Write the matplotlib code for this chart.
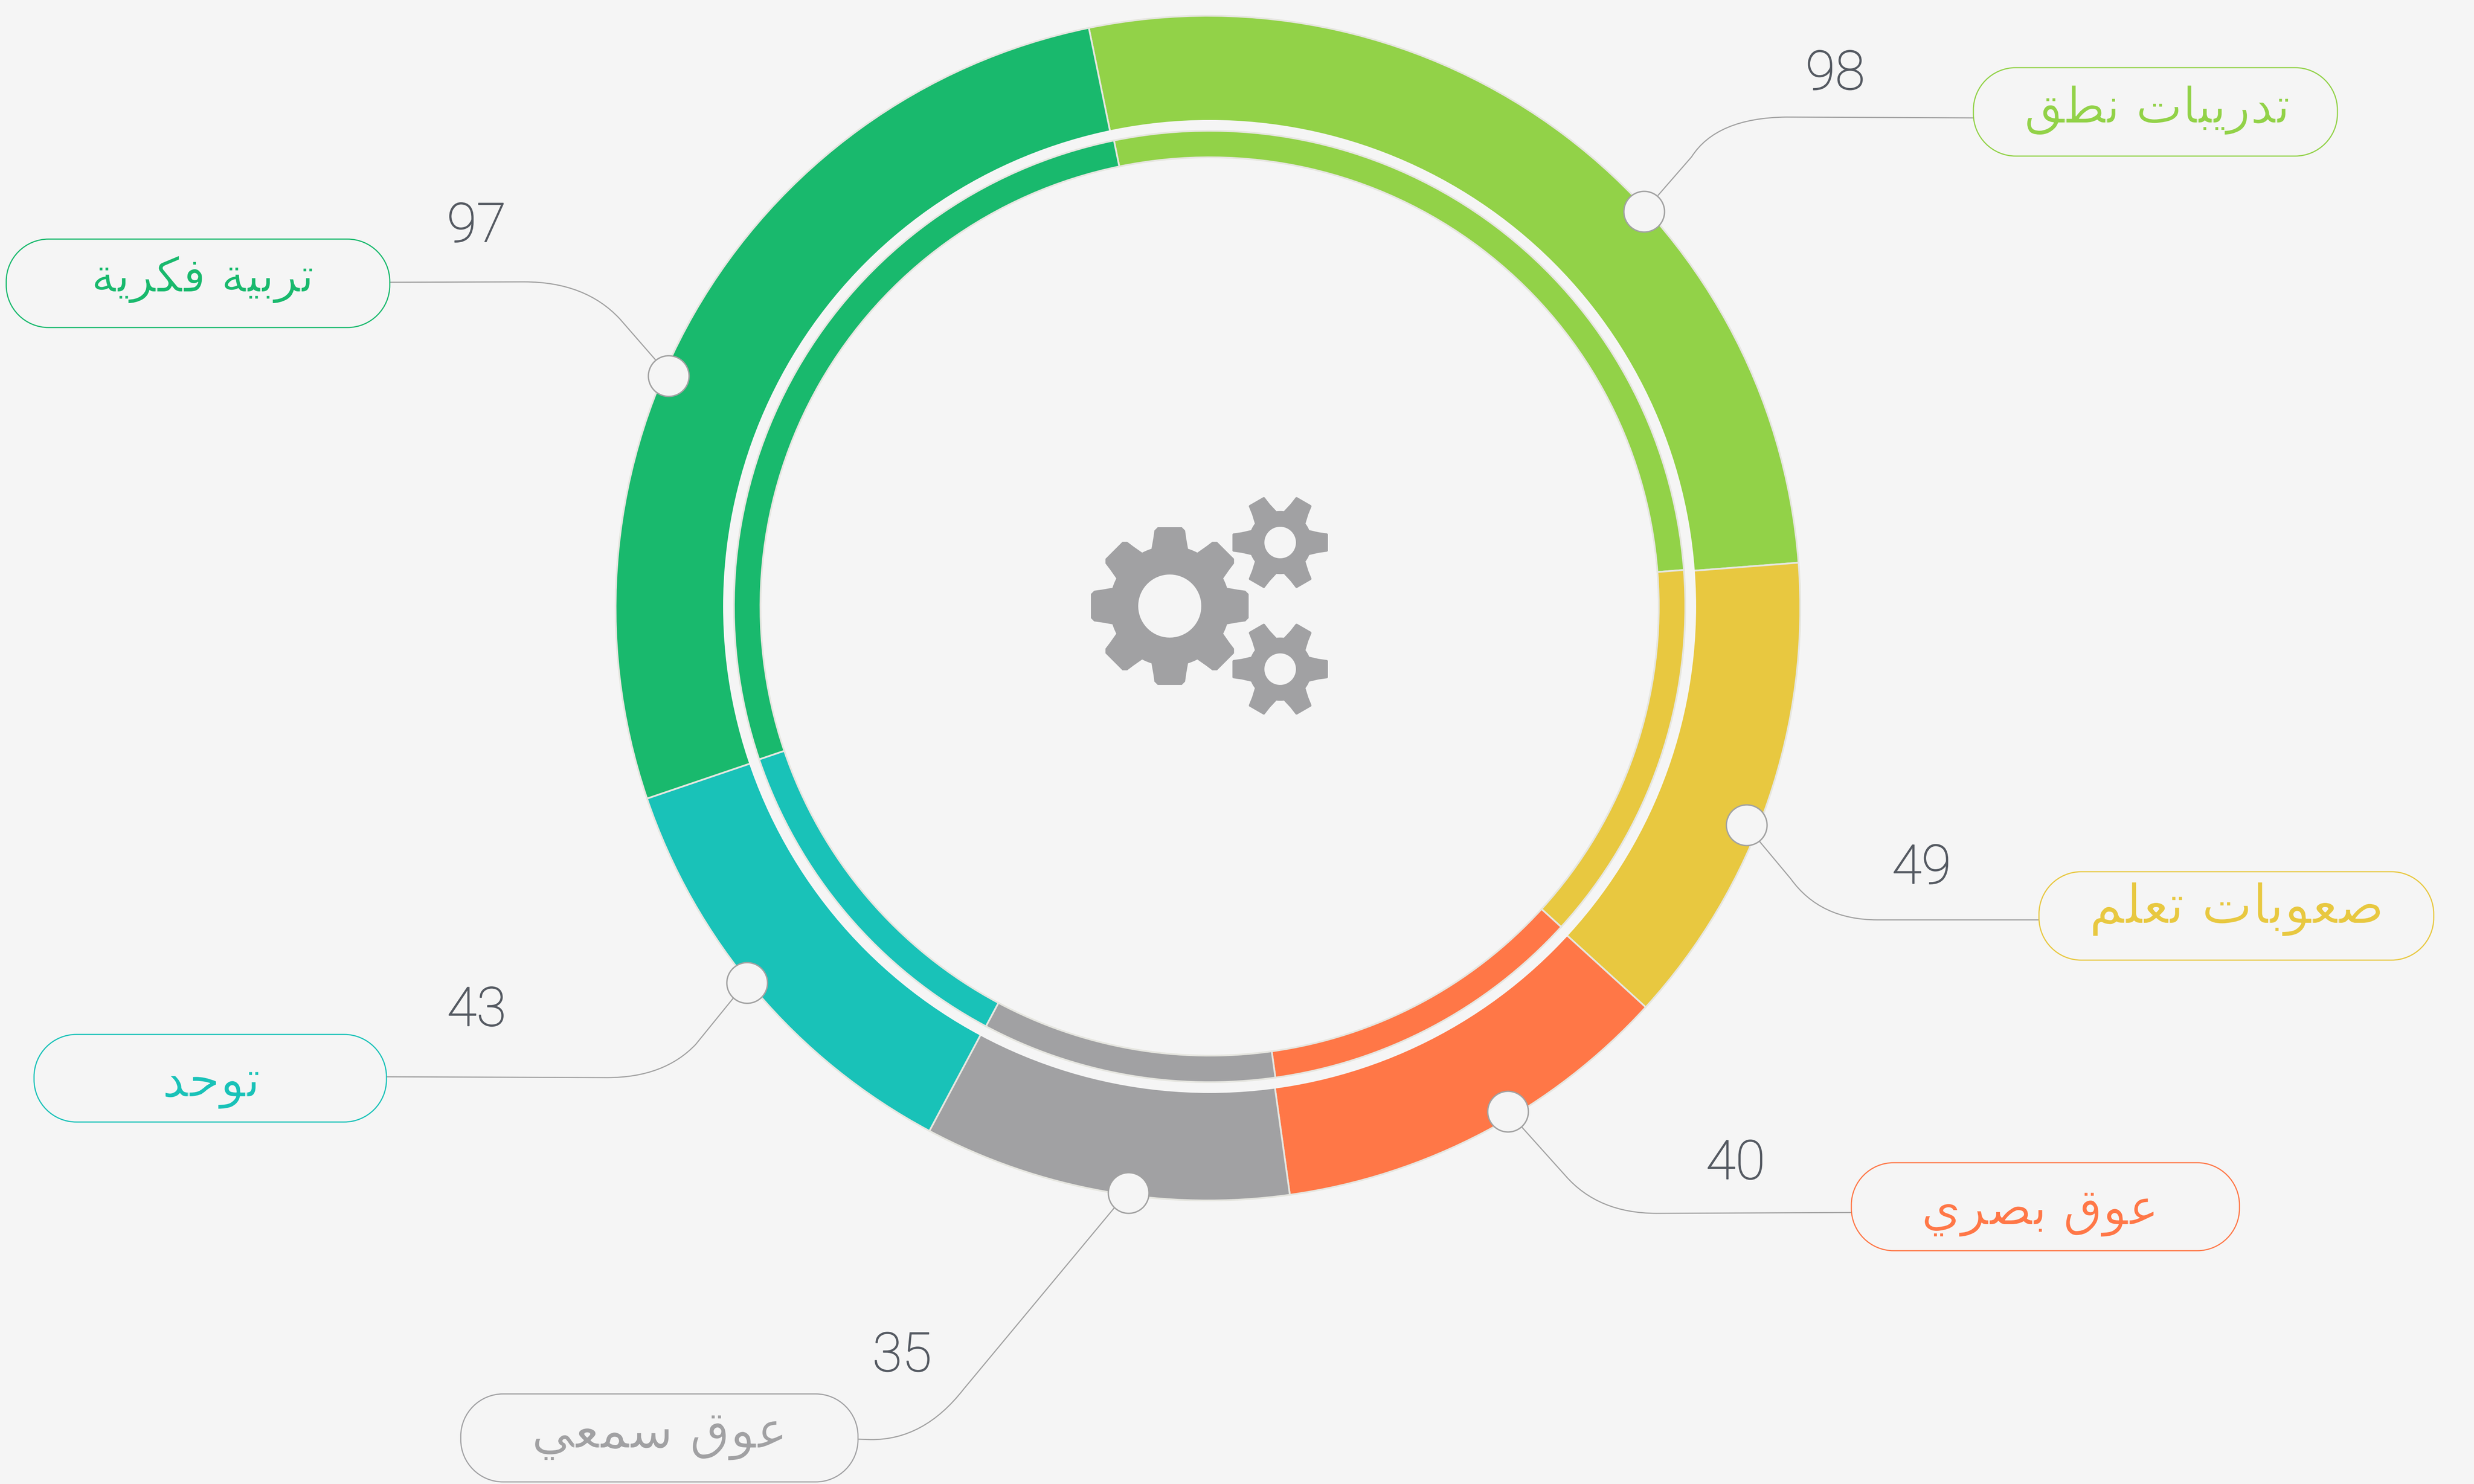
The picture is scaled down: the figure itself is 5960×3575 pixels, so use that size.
import numpy as np
import matplotlib
matplotlib.use("Agg")
import matplotlib.pyplot as plt
from matplotlib.patches import Circle, PathPatch
from matplotlib.path import Path
import matplotlib.patheffects as pe

# ---- data -------------------------------------------------------------
labels = ["تدريبات نطق", "صعوبات تعلم", "عوق بصري", "عوق سمعي", "توحد", "تربية فكرية"]
values = [98, 49, 40, 35, 43, 97]
# arc sweep of every slice (degrees)
sweeps = [97.2, 46.75, 39.7, 36.0, 43.2, 97.15]
colors = ["#92d248", "#e8c840", "#ff7747", "#a1a1a3", "#19c2b8", "#19b96d"]

# ---- layout (pixels of the 5960x3575 canvas) ---------------------------
BG = "#f5f5f5"
CX, CY = 2910, 1465
IX, IY = 2914, 1461
START = -101.6
pills = [(4754, 163, 5631, 376), (4912, 2100, 5863, 2313), (4460, 2801, 5395, 3013),
         (1110, 3358, 2067, 3570), (82, 2492, 931, 2703), (15, 576, 939, 789)]
label_xy = [(5197, 296), (5388, 2224), (4915, 2950), (1589, 3488), (509, 2642), (488, 703)]
label_size = [43, 47, 44, 45, 44, 41.5]
value_xy = [(4421, 179), (4629, 2092), (4181, 2804), (2173, 3267), (1148, 2435), (1148, 546)]
dots = [(3961, 510), (4208, 1988), (3633, 2678), (2719, 2874), (1800, 2368), (1611, 906)]
leaders = [
    [(3994, 471), (4075, 378), (4135, 284), (4303, 282), (4754, 284)],
    [(4238, 2026), (4314, 2117), (4385, 2216), (4523, 2216), (4912, 2216)],
    [(3666, 2715), (3771, 2832), (3850, 2923), (3991, 2923), (4460, 2921)],
    [(2685, 2909), (2321, 3347), (2225, 3470), (2097, 3468), (2067, 3467)],
    [(1771, 2399), (1676, 2516), (1600, 2596), (1463, 2596), (931, 2594)],
    [(1581, 869), (1493, 768), (1410, 679), (1263, 679), (939, 680)],
]

# ---- Arabic shaping (matplotlib draws no joined Arabic by itself) --------
FORMS = {
    "ا": (0xFE8D, 0xFE8E, None, None), "ب": (0xFE8F, 0xFE90, 0xFE91, 0xFE92),
    "ة": (0xFE93, 0xFE94, None, None), "ت": (0xFE95, 0xFE96, 0xFE97, 0xFE98),
    "ح": (0xFEA1, 0xFEA2, 0xFEA3, 0xFEA4), "د": (0xFEA9, 0xFEAA, None, None),
    "ر": (0xFEAD, 0xFEAE, None, None), "س": (0xFEB1, 0xFEB2, 0xFEB3, 0xFEB4),
    "ص": (0xFEB9, 0xFEBA, 0xFEBB, 0xFEBC), "ط": (0xFEC1, 0xFEC2, 0xFEC3, 0xFEC4),
    "ع": (0xFEC9, 0xFECA, 0xFECB, 0xFECC), "ف": (0xFED1, 0xFED2, 0xFED3, 0xFED4),
    "ق": (0xFED5, 0xFED6, 0xFED7, 0xFED8), "ك": (0xFED9, 0xFEDA, 0xFEDB, 0xFEDC),
    "ل": (0xFEDD, 0xFEDE, 0xFEDF, 0xFEE0), "م": (0xFEE1, 0xFEE2, 0xFEE3, 0xFEE4),
    "ن": (0xFEE5, 0xFEE6, 0xFEE7, 0xFEE8), "و": (0xFEED, 0xFEEE, None, None),
    "ي": (0xFEF1, 0xFEF2, 0xFEF3, 0xFEF4), "ه": (0xFEE9, 0xFEEA, 0xFEEB, 0xFEEC),
}


def shape(text):
    out = []
    for i, ch in enumerate(text):
        if ch not in FORMS:
            out.append(ch)
            continue
        f = FORMS[ch]
        prev = text[i - 1] if i else " "
        nxt = text[i + 1] if i + 1 < len(text) else " "
        joins_prev = prev in FORMS and FORMS[prev][2] is not None
        joins_next = nxt in FORMS and f[2] is not None
        code = f[3] if joins_prev and joins_next else f[1] if joins_prev else f[2] if joins_next else f[0]
        out.append(chr(code))
    return "".join(reversed(out))


def gear_path(cx, cy, n, r_tip, r_base, w_tip, w_base, r_hole, rnd):
    pts = []
    for k in range(n):
        a = 2 * np.pi * k / n
        c, s = np.cos(a), np.sin(a)
        r_mid = (r_base + r_tip) / 2
        w_mid = w_tip + (w_base - w_tip) * 0.35
        tooth = [(r_base, -w_base), (r_mid, -w_mid), (r_tip - rnd, -w_tip),
                 (r_tip, -w_tip + rnd), (r_tip, w_tip - rnd), (r_tip - rnd, w_tip),
                 (r_mid, w_mid), (r_base, w_base)]
        for rad, w in tooth:
            pts.append((cx + rad * c - w * s, cy + rad * s + w * c))
        r0 = np.hypot(r_base, w_base)
        d = np.arctan2(w_base, r_base)
        for t in np.linspace(a + d, a + 2 * np.pi / n - d, 8)[1:-1]:
            pts.append((cx + r0 * np.cos(t), cy + r0 * np.sin(t)))
    pts = np.array(pts)
    outer = Path(np.vstack([pts, pts[:1]]), closed=True)
    t = np.linspace(0, -2 * np.pi, 73)
    hole = Path(np.c_[cx + r_hole * np.cos(t), cy + r_hole * np.sin(t)], closed=True)
    return Path.make_compound_path(outer, hole)


def pill_path(x0, y0, x1, y1, r):
    k = r * 0.4477
    verts = [(x0 + r, y0), (x1 - r, y0), (x1 - k, y0), (x1, y0 + k), (x1, y0 + r),
             (x1, y1 - r), (x1, y1 - k), (x1 - k, y1), (x1 - r, y1),
             (x0 + r, y1), (x0 + k, y1), (x0, y1 - k), (x0, y1 - r),
             (x0, y0 + r), (x0, y0 + k), (x0 + k, y0), (x0 + r, y0), (x0 + r, y0)]
    C = Path.CURVE4
    codes = [Path.MOVETO, Path.LINETO, C, C, C, Path.LINETO, C, C, C,
             Path.LINETO, C, C, C, Path.LINETO, C, C, C, Path.CLOSEPOLY]
    return Path(verts, codes)


fig = plt.figure(figsize=(29.8, 17.875), dpi=200, facecolor=BG)
ax = fig.add_axes([0, 0, 1, 1])
ax.set_facecolor(BG)

edge = dict(edgecolor="#e6e6e0", linewidth=1.5)
ax.pie(sweeps, colors=colors, startangle=START, counterclock=True, center=(CX, CY),
       radius=1427, frame=True, wedgeprops=dict(width=1427 - 1120, **edge))
ax.add_patch(Circle((IX, IY), 1172, facecolor=BG, edgecolor="none", zorder=2))
wedges, _ = ax.pie(sweeps, colors=colors, startangle=START, counterclock=True, center=(IX, IY),
                   radius=1146, frame=True, wedgeprops=dict(width=1146 - 1082, **edge))
for w in wedges:
    w.set_zorder(2.5)
ax.set_xlim(0, 5960)
ax.set_ylim(3575, 0)
ax.set_aspect("equal")
ax.axis("off")

for cx, cy, n, rt, rb, wt, wb, rh, rnd in [(2818, 1460, 8, 190, 138, 37, 44, 76, 8),
                                           (3084, 1307, 6, 115, 70, 22, 30, 38, 2),
                                           (3084, 1612, 6, 115, 70, 22, 30, 38, 2)]:
    ax.add_patch(PathPatch(gear_path(cx, cy, n, rt, rb, wt, wb, rh, rnd), facecolor="#a1a1a3",
                           edgecolor="none", zorder=3))

line_col = "#a2a2a2"
for pts in leaders:
    codes = [Path.MOVETO, Path.LINETO, Path.CURVE3, Path.CURVE3, Path.LINETO]
    ax.add_patch(PathPatch(Path(pts, codes), facecolor="none", edgecolor=line_col,
                           linewidth=1.0, zorder=4))

for (x, y) in dots:
    ax.add_patch(Circle((x, y), 49, facecolor=BG, edgecolor=line_col, linewidth=1.2, zorder=5))

for (x0, y0, x1, y1), col in zip(pills, colors):
    ax.add_patch(PathPatch(pill_path(x0, y0, x1, y1, 102), facecolor=BG, edgecolor=col,
                           linewidth=1.0, zorder=5))

for lab, (x, y), col, size in zip(labels, label_xy, colors, label_size):
    t = ax.text(x, y, shape(lab), color=col, fontsize=size, family="DejaVu Sans",
                ha="center", va="baseline", zorder=6)
    t.set_path_effects([pe.Stroke(linewidth=0.7, foreground=BG)])

for v, (x, y) in zip(values, value_xy):
    t = ax.text(x, y, str(v), color="#555a62", fontsize=47, family="Roboto", fontweight="light",
                ha="center", va="center", zorder=6)
    t.set_path_effects([pe.Stroke(linewidth=0.7, foreground="#555a62")])

fig.savefig("out.png", dpi=200, facecolor=BG)
